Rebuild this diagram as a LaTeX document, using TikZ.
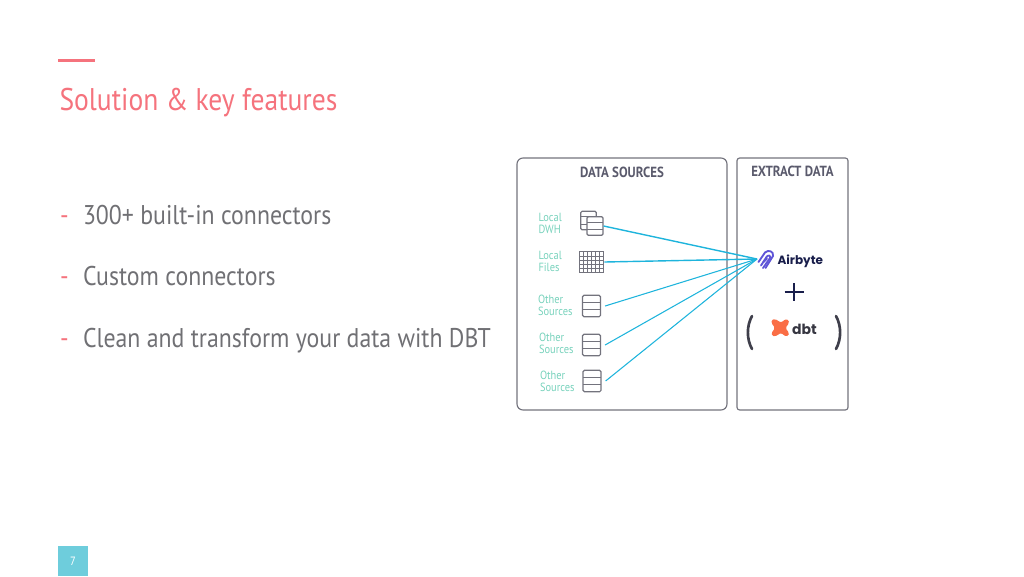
\documentclass[tikz,border=0pt]{standalone}
\usepackage{fontspec}
\setmainfont[FakeStretch=0.88]{PT Sans}
\newfontfamily\logofont{Poppins}
\usetikzlibrary{positioning}
\definecolor{coral}{RGB}{245,115,125}
\definecolor{bodygray}{RGB}{112,112,116}
\definecolor{headgray}{RGB}{90,90,108}
\definecolor{framegray}{RGB}{115,115,125}
\definecolor{labelgreen}{RGB}{120,210,188}
\definecolor{linkblue}{RGB}{30,180,220}
\definecolor{pagecyan}{RGB}{110,205,220}
\definecolor{airpurple}{RGB}{95,85,215}
\definecolor{airnavy}{RGB}{25,30,75}
\definecolor{dbtorange}{RGB}{250,110,70}
\tikzset{every picture/.style={line width=0.75pt}}
\tikzset{
  bullet/.style={font=\fontsize{20.3}{22}\selectfont,text=bodygray,anchor=base west,inner sep=0pt},
  dashmark/.style={font=\fontsize{20.3}{22}\selectfont,text=coral,anchor=base west,inner sep=0pt},
  srclabel/.style={font=\fontsize{8.9}{9}\selectfont,text=labelgreen,align=left,inner sep=0pt},
  headlabel/.style={font=\fontsize{11}{12}\selectfont\bfseries,text=headgray,inner sep=0pt},
  panel/.style={draw=framegray,line width=0.85pt,rounded corners=4.5pt},
  stackicon/.style={draw=framegray,fill=white,rounded corners=1pt,line width=0.9pt,
    minimum width=13.5pt,minimum height=16pt,inner sep=0pt,
    path picture={
      \draw[framegray,line width=0.8pt] ([yshift=2.7pt]path picture bounding box.west) -- ([yshift=2.7pt]path picture bounding box.east);
      \draw[framegray,line width=0.8pt] ([yshift=-2.7pt]path picture bounding box.west) -- ([yshift=-2.7pt]path picture bounding box.east);
    }},
  gridicon/.style={draw=framegray,line width=0.7pt,minimum width=18.5pt,minimum height=15.5pt,inner sep=0pt,
    path picture={
      \foreach \i in {-6,-3,0,3,6}
        \draw[framegray,line width=0.5pt] ([xshift=\i pt]path picture bounding box.north) -- ([xshift=\i pt]path picture bounding box.south);
      \foreach \j in {-5,-2,1,4}
        \draw[framegray,line width=0.5pt] ([yshift=\j pt]path picture bounding box.west) -- ([yshift=\j pt]path picture bounding box.east);
    }},
  link/.style={draw=linkblue,line width=0.8pt},
  thicklink/.style={draw=linkblue,line width=1.05pt}
}
\begin{document}
\begin{tikzpicture}[x=0.75pt,y=0.75pt,yscale=-1,xscale=1]
\useasboundingbox (0,0) rectangle (1024,576);

%Shape: title rule
\fill[coral] (58,58.5) rectangle (95,62);
%Shape: page box
\node (pagebox) [fill=pagecyan,minimum width=22.5pt,minimum height=22.5pt,inner sep=0pt,text=white,font=\fontsize{9}{10}\selectfont] at (73,561) {7};

% Text Node
\node (title) [anchor=base west,inner sep=0pt,text=coral,font=\fontsize{23.5}{25}\selectfont] at (59,110) {Solution \& key features};
% Text Node
\node (dashA) [dashmark] at (59.5,224.5) {-};
\node (bulletA) [bullet] at (82.5,224.5) {300+ built-in connectors};
\node (dashB) [dashmark] at (59.5,285.5) {-};
\node (bulletB) [bullet] at (82.5,285.5) {Custom connectors};
\node (dashC) [dashmark] at (59.5,347.5) {-};
\node (bulletC) [bullet] at (82.5,347.5) {Clean and transform your data with DBT};

%Shape: panels
\draw[panel] (517,158) rectangle (727,410);
\draw[panel,rounded corners=2pt] (737,158) rectangle (848,410);
\node (headsrc) [headlabel] at (622,172) {DATA SOURCES};
\node (headext) [headlabel] at (792.5,171) {EXTRACT DATA};

% Source labels
\node (labelA) [srclabel,anchor=west] at (538,223) {Local\\DWH};
\node (labelB) [srclabel,anchor=west] at (538,261) {Local\\Files};
\node (labelC) [srclabel,anchor=west] at (537.5,305.5) {Other\\Sources};
\node (labelD) [srclabel,anchor=west] at (538.5,343.5) {Other\\Sources};
\node (labelE) [srclabel,anchor=west] at (539.5,381.5) {Other\\Sources};

% Source icons
\node (iconAback) [stackicon,minimum width=11.5pt,minimum height=14pt] at (588.5,220.5) {};
\node (iconA) [stackicon,minimum width=12pt,minimum height=14pt] at (595,226) {};
\node (iconB) [gridicon] at (591.5,262) {};
\node (iconC) [stackicon] at (591.5,306) {};
\node (iconD) [stackicon] at (591.5,345) {};
\node (iconE) [stackicon] at (592,381) {};

% Airbyte logo
\coordinate (hub) at (757,259);
\draw[airpurple,line width=1.4pt,line cap=round] (758.5,262) -- (765,252.5) .. controls (768,249.5) and (774,251) .. (773,256) -- (765.5,268);
\draw[airpurple,line width=1.4pt,line cap=round] (761,265.5) -- (766.5,257) .. controls (768,254.5) and (771,255.5) .. (770,258) -- (763,268);
\draw[airpurple,line width=1.4pt,line cap=round] (763.5,262) -- (767,258.5);
\node (airbyte) [anchor=west,inner sep=0pt,text=airnavy,font=\logofont\fontsize{9}{11}\selectfont\bfseries] at (777,261) {Airbyte};

% Connectors
\draw[thicklink] (iconA.east) -- (hub);
\draw[thicklink] (iconB.east) -- (hub);
\draw[link] ([xshift=3pt]iconC.east) -- (hub);
\draw[link] ([xshift=3pt]iconD.east) -- (hub);
\draw[link] ([xshift=3pt]iconE.east) -- (hub);

%Shape: plus
\draw[airnavy,line width=1.5pt] (784.5,292) -- (804,292);
\draw[airnavy,line width=1.5pt] (794,283) -- (794,301);

%Shape: parens
\draw[headgray!70!black,line width=2pt,line cap=round] (752,316) .. controls (746.5,326) and (746.5,339) .. (752,349);
\draw[headgray!70!black,line width=2pt,line cap=round] (836,316) .. controls (841.5,326) and (841.5,339) .. (836,349);

% dbt logo
\fill[dbtorange,rounded corners=1pt] (771.5,320) -- (775,319) -- (781,322.5) -- (786,319) -- (788.5,320) -- (789,323) -- (785.5,328) -- (789,333) -- (788.5,335.5) -- (786,336.5) -- (781,333) -- (775,336.5) -- (772,335.5) -- (771.5,333) -- (775,328) -- (771.5,323) -- cycle;
\node (dbt) [anchor=west,inner sep=0pt,text=headgray!60!black,font=\logofont\fontsize{10.5}{12}\selectfont\bfseries] at (791.5,329) {dbt};

\end{tikzpicture}
\end{document}
